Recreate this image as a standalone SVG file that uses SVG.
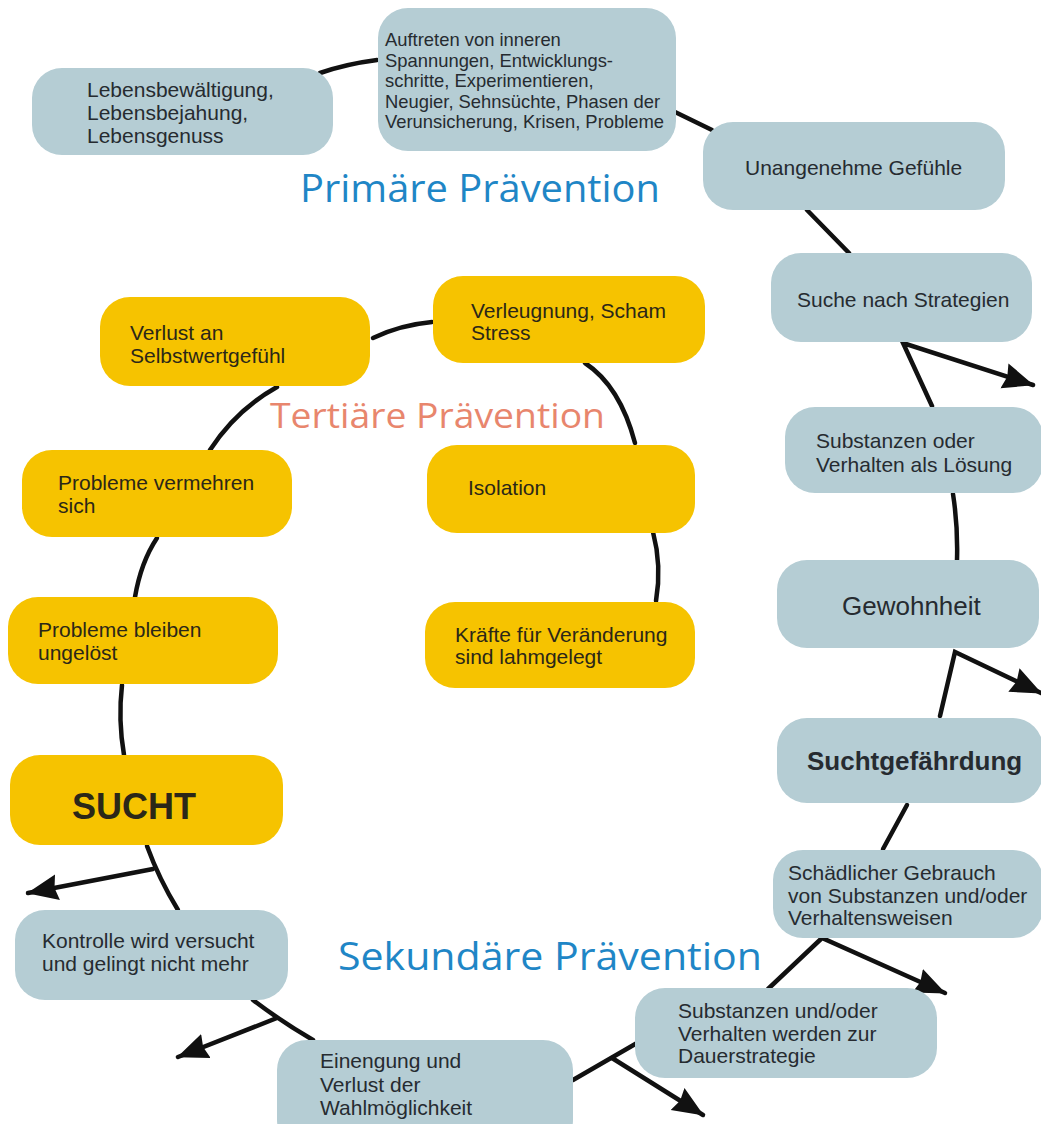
<svg xmlns="http://www.w3.org/2000/svg" width="1041" height="1124" viewBox="0 0 1041 1124">
  <style>
    .blue { fill: #b5cdd4; }
    .yellow { fill: #f6c300; }
    .t { font-family: "Liberation Sans", Arial, sans-serif; font-size: 21px; fill: #262b30; }
    .ty { font-family: "Liberation Sans", Arial, sans-serif; font-size: 21px; fill: #2b2718; }
    .small { font-size: 18.4px; }
    .title { font-family: "Open Sans", "Liberation Sans", sans-serif; font-weight: 400; }
    .prim { fill: #1f86c6; font-size: 38px; }
    .tert { fill: #e8866d; font-size: 35px; }
    .conn { fill: none; stroke: #111; stroke-width: 4.5; stroke-linecap: round; stroke-linejoin: miter; }
    .arrow { marker-end: url(#ah); }
  </style>
  <defs>
    <marker id="ah" markerUnits="userSpaceOnUse" markerWidth="32" markerHeight="28" viewBox="0 0 32 28" refX="30" refY="14" orient="auto">
      <path d="M0,1 L31,14 L0,27 L3,14 z" fill="#111"/>
    </marker>
  </defs>
  <rect x="0" y="0" width="1041" height="1124" fill="#ffffff"/>

  <g id="connectors">
    <path class="conn" d="M320,73 Q346,64 377,60"/>
    <path class="conn" d="M675,112 L712,130"/>
    <path class="conn" d="M807,210 L849,253"/>
    <path class="conn arrow" d="M932,406 L903,343 L1033,385"/>
    <path class="conn" d="M953,494 Q958,526 957,560"/>
    <path class="conn arrow" d="M940,716 L955,652 L1041,693"/>
    <path class="conn" d="M907,805 L883,849"/>
    <path class="conn arrow" d="M768,989 L822,938 L945,993"/>
    <path class="conn" d="M637,1043 L573,1080"/>
    <path class="conn arrow" d="M612,1058 L703,1115"/>
    <path class="conn" d="M253,1000 Q282,1022 313,1040"/>
    <path class="conn arrow" d="M277,1018 L178,1057"/>
    <path class="conn" d="M147,846 Q159,879 178,910"/>
    <path class="conn arrow" d="M153,869 L28,893"/>
    <path class="conn" d="M122,685 Q118,720 124,755"/>
    <path class="conn" d="M157,538 Q141,562 135,597"/>
    <path class="conn" d="M277,387 Q236,410 210,450"/>
    <path class="conn" d="M373,338 Q400,325 432,322"/>
    <path class="conn" d="M585,363 Q620,386 635,443"/>
    <path class="conn" d="M653,532 Q662,566 656,601"/>
  </g>

  <g id="titles">
    <text class="title prim" x="300" y="202" textLength="360" lengthAdjust="spacingAndGlyphs">Primäre Prävention</text>
    <text class="title tert" x="270" y="428" textLength="335" lengthAdjust="spacingAndGlyphs">Tertiäre Prävention</text>
    <text class="title prim" x="338" y="970" textLength="424" lengthAdjust="spacingAndGlyphs">Sekundäre Prävention</text>
  </g>

  <g id="n-lebens">
    <rect class="blue" x="32" y="68" width="301" height="87" rx="30"/>
    <text class="t" x="87" y="97">Lebensbewältigung,</text>
    <text class="t" x="87" y="120">Lebensbejahung,</text>
    <text class="t" x="87" y="143">Lebensgenuss</text>
  </g>
  <g id="n-auftreten">
    <rect class="blue" x="378" y="8" width="298" height="143" rx="30"/>
    <text class="t small" x="385" y="46">Auftreten von inneren</text>
    <text class="t small" x="385" y="66.5">Spannungen, Entwicklungs-</text>
    <text class="t small" x="385" y="87">schritte, Experimentieren,</text>
    <text class="t small" x="385" y="107.5">Neugier, Sehnsüchte, Phasen der</text>
    <text class="t small" x="385" y="128">Verunsicherung, Krisen, Probleme</text>
  </g>
  <g id="n-unangenehm">
    <rect class="blue" x="703" y="122" width="302" height="88" rx="30"/>
    <text class="t" x="745" y="175">Unangenehme Gefühle</text>
  </g>
  <g id="n-suche">
    <rect class="blue" x="771" y="253" width="261" height="89" rx="30"/>
    <text class="t" x="797" y="307">Suche nach Strategien</text>
  </g>
  <g id="n-loesung">
    <rect class="blue" x="785" y="407" width="258" height="86" rx="30"/>
    <text class="t" x="816" y="448">Substanzen oder</text>
    <text class="t" x="816" y="472">Verhalten als Lösung</text>
  </g>
  <g id="n-gewohnheit">
    <rect class="blue" x="777" y="560" width="262" height="88" rx="30"/>
    <text class="t" x="842" y="615" style="font-size:26px">Gewohnheit</text>
  </g>
  <g id="n-suchtgefaehrdung">
    <rect class="blue" x="777" y="718" width="266" height="85" rx="30"/>
    <text class="t" x="807" y="770" style="font-size:26px;font-weight:bold">Suchtgefährdung</text>
  </g>
  <g id="n-schaedlich">
    <rect class="blue" x="773" y="850" width="270" height="88" rx="30"/>
    <text class="t" x="788" y="880">Schädlicher Gebrauch</text>
    <text class="t" x="788" y="903">von Substanzen und/oder</text>
    <text class="t" x="788" y="925">Verhaltensweisen</text>
  </g>
  <g id="n-dauerstrategie">
    <rect class="blue" x="635" y="988" width="302" height="90" rx="30"/>
    <text class="t" x="678" y="1018">Substanzen und/oder</text>
    <text class="t" x="678" y="1041">Verhalten werden zur</text>
    <text class="t" x="678" y="1063">Dauerstrategie</text>
  </g>
  <g id="n-einengung">
    <rect class="blue" x="277" y="1040" width="296" height="110" rx="30"/>
    <text class="t" x="320" y="1068">Einengung und</text>
    <text class="t" x="320" y="1092">Verlust der</text>
    <text class="t" x="320" y="1115">Wahlmöglichkeit</text>
  </g>
  <g id="n-kontrolle">
    <rect class="blue" x="15" y="910" width="273" height="90" rx="30"/>
    <text class="t" x="42" y="948">Kontrolle wird versucht</text>
    <text class="t" x="42" y="971">und gelingt nicht mehr</text>
  </g>

  <g id="n-sucht">
    <rect class="yellow" x="10" y="755" width="273" height="90" rx="30"/>
    <text class="ty" x="72" y="819" style="font-size:36px;font-weight:bold">SUCHT</text>
  </g>
  <g id="n-bleiben">
    <rect class="yellow" x="8" y="597" width="270" height="87" rx="30"/>
    <text class="ty" x="38" y="637">Probleme bleiben</text>
    <text class="ty" x="38" y="660">ungelöst</text>
  </g>
  <g id="n-vermehren">
    <rect class="yellow" x="22" y="450" width="270" height="87" rx="30"/>
    <text class="ty" x="58" y="490">Probleme vermehren</text>
    <text class="ty" x="58" y="513">sich</text>
  </g>
  <g id="n-selbstwert">
    <rect class="yellow" x="100" y="297" width="270" height="89" rx="30"/>
    <text class="ty" x="130" y="340">Verlust an</text>
    <text class="ty" x="130" y="363">Selbstwertgefühl</text>
  </g>
  <g id="n-verleugnung">
    <rect class="yellow" x="433" y="276" width="272" height="87" rx="30"/>
    <text class="ty" x="471" y="318">Verleugnung, Scham</text>
    <text class="ty" x="471" y="340">Stress</text>
  </g>
  <g id="n-isolation">
    <rect class="yellow" x="427" y="445" width="268" height="88" rx="30"/>
    <text class="ty" x="468" y="495">Isolation</text>
  </g>
  <g id="n-kraefte">
    <rect class="yellow" x="425" y="602" width="270" height="86" rx="30"/>
    <text class="ty" x="455" y="642">Kräfte für Veränderung</text>
    <text class="ty" x="455" y="664">sind lahmgelegt</text>
  </g>
</svg>
